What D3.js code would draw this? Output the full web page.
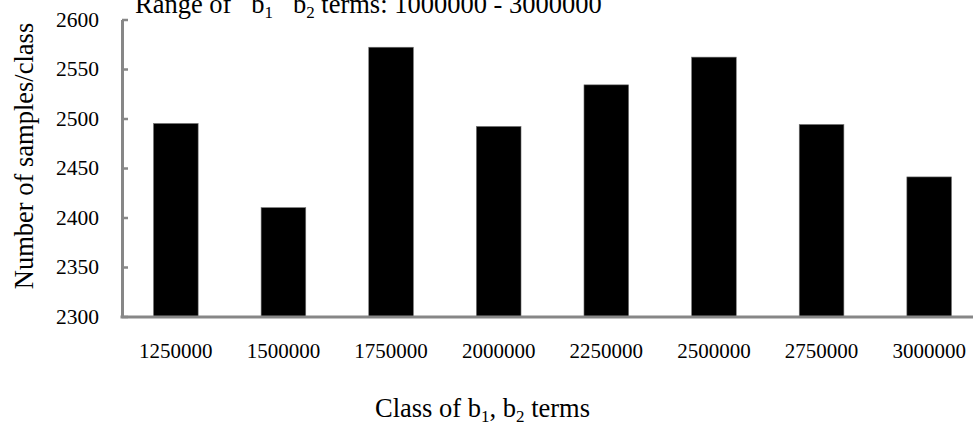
<!DOCTYPE html>
<html>
<head>
<meta charset="utf-8">
<script src="https://cdn.jsdelivr.net/npm/d3@7"></script>
<style>
  html, body { margin: 0; padding: 0; background: #fff; }
  svg { display: block; }
  svg text { font-family: "Liberation Serif", "Times New Roman", serif !important; fill: #000; }
</style>
</head>
<body>
<svg id="chart" width="973" height="426"></svg>
<script>
const categories = ["1250000", "1500000", "1750000", "2000000", "2250000", "2500000", "2750000", "3000000"];
const samples = [2495, 2410, 2572, 2492, 2534, 2562, 2494, 2441];
const yTicks = [2300, 2350, 2400, 2450, 2500, 2550, 2600];
const yDomain = [2300, 2600];

const svg = d3.select("#chart");
const axisColor = "#878787";
const serif = "'Liberation Serif', 'Times New Roman', serif";

const x = d3.scaleBand().domain(categories).range([122, 983]).paddingInner(0.585).paddingOuter(0.2925);
const y = d3.scaleLinear().domain(yDomain).range([316.5, 19.5]);

// bars
svg.append("g").selectAll("rect").data(categories).join("rect")
  .attr("x", d => x(d))
  .attr("width", x.bandwidth())
  .attr("y", (d, i) => y(samples[i]))
  .attr("height", (d, i) => y(yDomain[0]) - y(samples[i]))
  .attr("fill", "#000")
  .attr("stroke", "#777")
  .attr("stroke-width", 0.6);

// y axis
const yAxis = svg.append("g").attr("transform", "translate(122,0)")
  .call(d3.axisLeft(y).tickValues(yTicks).tickSize(-6).tickSizeOuter(0).tickPadding(23).tickFormat(d3.format("d")));
yAxis.attr("font-family", null).attr("font-size", null);
yAxis.select(".domain").attr("stroke", axisColor).attr("stroke-width", 3);
yAxis.selectAll(".tick line").attr("stroke", axisColor).attr("stroke-width", 2.5);
yAxis.selectAll(".tick text").style("font-size", "21.5px").style("font-family", serif).attr("fill", "#000");

// x axis
const xAxis = svg.append("g").attr("transform", "translate(0,317)")
  .call(d3.axisBottom(x).tickSize(0).tickSizeOuter(0).tickPadding(26));
xAxis.attr("font-family", null).attr("font-size", null);
xAxis.select(".domain").attr("stroke", axisColor).attr("stroke-width", 3)
  .attr("d", "M120.5,0H990");
xAxis.selectAll(".tick text").style("font-size", "21px").style("font-family", serif).attr("fill", "#000");

// y axis title
svg.append("text")
  .attr("transform", "translate(33,156) rotate(-90)")
  .attr("text-anchor", "middle")
  .style("font-size", "26.5px")
  .text("Number of samples/class");

// x axis title
const xt = svg.append("text")
  .attr("x", 375).attr("y", 417)
  .style("font-size", "26.5px");
xt.append("tspan").text("Class of b");
xt.append("tspan").style("font-size", "17px").attr("dy", 5).text("1");
xt.append("tspan").attr("dy", -5).text(", b");
xt.append("tspan").style("font-size", "17px").attr("dy", 5).text("2");
xt.append("tspan").attr("dy", -5).text(" terms");

// top title (cut off at top edge, as in the reference)
const tt = svg.append("text")
  .attr("x", 135).attr("y", 12.5)
  .style("font-size", "26.5px")
  .style("white-space", "pre");
tt.append("tspan").text("Range of   b");
tt.append("tspan").style("font-size", "17px").attr("dy", 5).text("1");
tt.append("tspan").attr("dy", -5).text("   b");
tt.append("tspan").style("font-size", "17px").attr("dy", 5).text("2");
tt.append("tspan").attr("dy", -5).text(" terms: 1000000 - 3000000");
</script>
</body>
</html>
